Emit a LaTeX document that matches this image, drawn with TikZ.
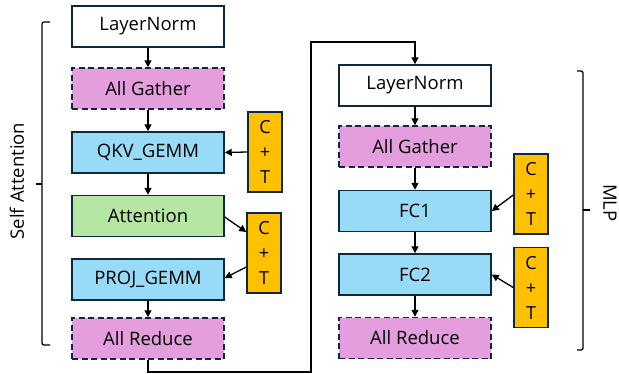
\documentclass[tikz,border=0pt]{standalone}
\usepackage{fontspec}
\setmainfont{Open Sans}
\usetikzlibrary{arrows.meta}
\definecolor{bordc}{HTML}{0E2841}
\definecolor{pinkc}{HTML}{E49EDD}
\definecolor{bluec}{HTML}{97DBF7}
\definecolor{greenc}{HTML}{B5E6A2}
\definecolor{orangec}{HTML}{FFC000}
\tikzset{
  box/.style={draw=bordc, line width=1.5pt, minimum width=152pt, minimum height=41pt, inner sep=0pt, font=\fontsize{18.5}{21}\selectfont},
  plain/.style={box, fill=white},
  comm/.style={box, fill=pinkc, dash pattern=on 6pt off 3.5pt},
  gemm/.style={box, fill=bluec},
  attn/.style={box, fill=greenc},
  ctbox/.style={draw=bordc, line width=1.5pt, fill=orangec, minimum width=34pt, minimum height=80pt, inner sep=0pt, align=center, font=\fontsize{18}{25}\selectfont},
  arr/.style={draw=black, line width=1.3pt, -{Triangle[length=7pt,width=7pt]}},
  brk/.style={draw=black, line width=1.3pt, rounded corners=2pt},
  lbl/.style={font=\fontsize{18.5}{21}\selectfont, inner sep=0pt}
}
\begin{document}
\begin{tikzpicture}[x=1pt, y=-1pt]
\useasboundingbox (0,0) rectangle (619,373);
% left column
\node[plain] (ln1) at (148,26.5) {LayerNorm};
\node[comm] (ag1) at (148,88.5) {All Gather};
\node[gemm] (qkv) at (148,152.5) {QKV\_GEMM};
\node[attn] (att) at (148,216) {Attention};
\node[gemm] (proj) at (148,279.5) {PROJ\_GEMM};
\node[comm] (ar1) at (148,338.5) {All Reduce};
% right column
\node[plain] (ln2) at (415,85.5) {LayerNorm};
\node[comm] (ag2) at (415,146.5) {All Gather};
\node[gemm] (fc1) at (415,211) {FC1};
\node[gemm] (fc2) at (415,274.5) {FC2};
\node[comm] (ar2) at (415,338) {All Reduce};
% C+T boxes
\node[ctbox] (ct1) at (265,152) {C\\+\\T};
\node[ctbox] (ct2) at (264,253) {C\\+\\T};
\node[ctbox] (ct3) at (531,194) {C\\+\\T};
\node[ctbox] (ct4) at (531,287.5) {C\\+\\T};
% vertical arrows
\draw[arr] (ln1.south) -- (ag1.north);
\draw[arr] (ag1.south) -- (qkv.north);
\draw[arr] (qkv.south) -- (att.north);
\draw[arr] (proj.south) -- (ar1.north);
\draw[arr] (ln2.south) -- (ag2.north);
\draw[arr] (ag2.south) -- (fc1.north);
\draw[arr] (fc1.south) -- (fc2.north);
\draw[arr] (fc2.south) -- (ar2.north);
% C+T arrows
\draw[arr] (ct1.west) -- (qkv.east);
\draw[arr] ([yshift=-1pt]att.east) -- ([yshift=21pt]ct2.west);
\draw[arr] ([yshift=-14pt]ct2.west) -- ([yshift=1.5pt]proj.east);
\draw[arr] ([yshift=-1pt]ct3.west) -- (fc1.east);
\draw[arr] (ct4.west) -- (fc2.east);
% loop connector
\coordinate (c2) at (311,372);
\coordinate (c3) at (311,42);
\draw[arr] (ar1.south) |- (c2) -- (c3) -| (ln2.north);
% brackets
\draw[brk] (50,22) -- (42,22) -- (42,345) -- (50,345);
\draw[line width=1.3pt] (42,184) -- (36,184);
\draw[brk] (577,71) -- (583,71) -- (583,350) -- (577,350);
\draw[line width=1.3pt] (583,210) -- (590,210);
\node[lbl, rotate=90] (sa) at (17,181) {Self Attention};
\node[lbl, rotate=-90] (mlp) at (610,203) {MLP};
\end{tikzpicture}
\end{document}
